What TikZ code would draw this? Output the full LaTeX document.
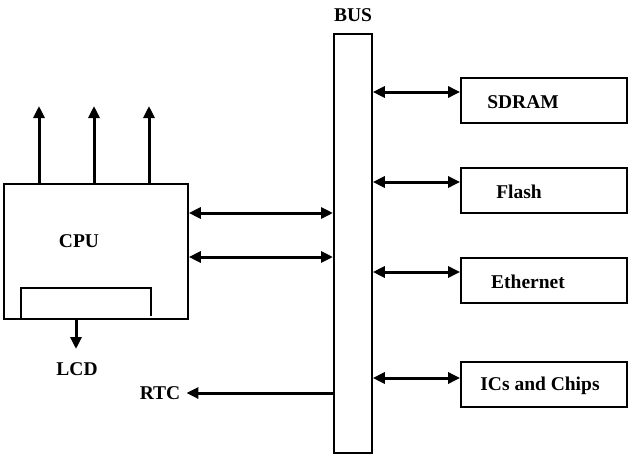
\documentclass[tikz,border=0pt]{standalone}
\usepackage{fontspec}
\setmainfont{Liberation Serif}
\usetikzlibrary{arrows.meta}
\begin{document}
\begin{tikzpicture}[x=1pt,y=-1pt,>={Triangle[length=12pt,width=11pt]},
	box/.style={draw,line width=1.8pt,minimum width=166pt,minimum height=45pt,inner sep=0pt},
	lbl/.style={font=\bfseries\fontsize{19.5}{20}\selectfont,inner sep=2pt},
	arr/.style={line width=3pt}]
	\useasboundingbox (0,0) rectangle (629,455);
	% bus
	\node[draw,line width=1.8pt,minimum width=38pt,minimum height=419pt,inner sep=0pt,anchor=north west] (bus) at (333,33) {};
	\node[lbl] (buslbl) at (353,15) {BUS};
	% memories and peripherals
	\foreach \n/\y/\ay/\tx/\t in {sdram/100.5/92/523/SDRAM, flash/190.5/182/519/Flash, eth/280.5/272/528/Ethernet, ics/384.5/378/540/ICs and Chips}{
		\node[box] (\n) at (544,\y) {};
		\node[lbl] (\n lbl) at (\tx,\y+1.5) {\t};
		\draw[arr,<->] (bus.east |- 0,\ay) -- (\n.west |- 0,\ay);
	}
	% cpu
	\node[draw,line width=1.8pt,minimum width=184pt,minimum height=135pt,inner sep=0pt,anchor=north west] (cpu) at (3,183) {};
	\node[lbl] (cpulbl) at (79,241) {CPU};
	\draw[line width=1.8pt] (21,318) |- (151,288) -- (151,316);
	\foreach \x in {39,94,149}
		\draw[arr,->] (\x,183) -- (\x,106);
	\draw[arr,<->] (cpu.east |- 0,213) -- (bus.west |- 0,213);
	\draw[arr,<->] (cpu.east |- 0,257) -- (bus.west |- 0,257);
	% lcd and rtc
	\node[lbl] (lcd) at (77,369) {LCD};
	\coordinate (lcdtip) at (76,349);
	\draw[arr,->] (76,318) -- (lcdtip);
	\node[lbl] (rtc) at (160,393) {RTC};
	\draw[arr,->] (bus.west |- rtc) -- ([xshift=4pt]rtc.east);
\end{tikzpicture}
\end{document}
